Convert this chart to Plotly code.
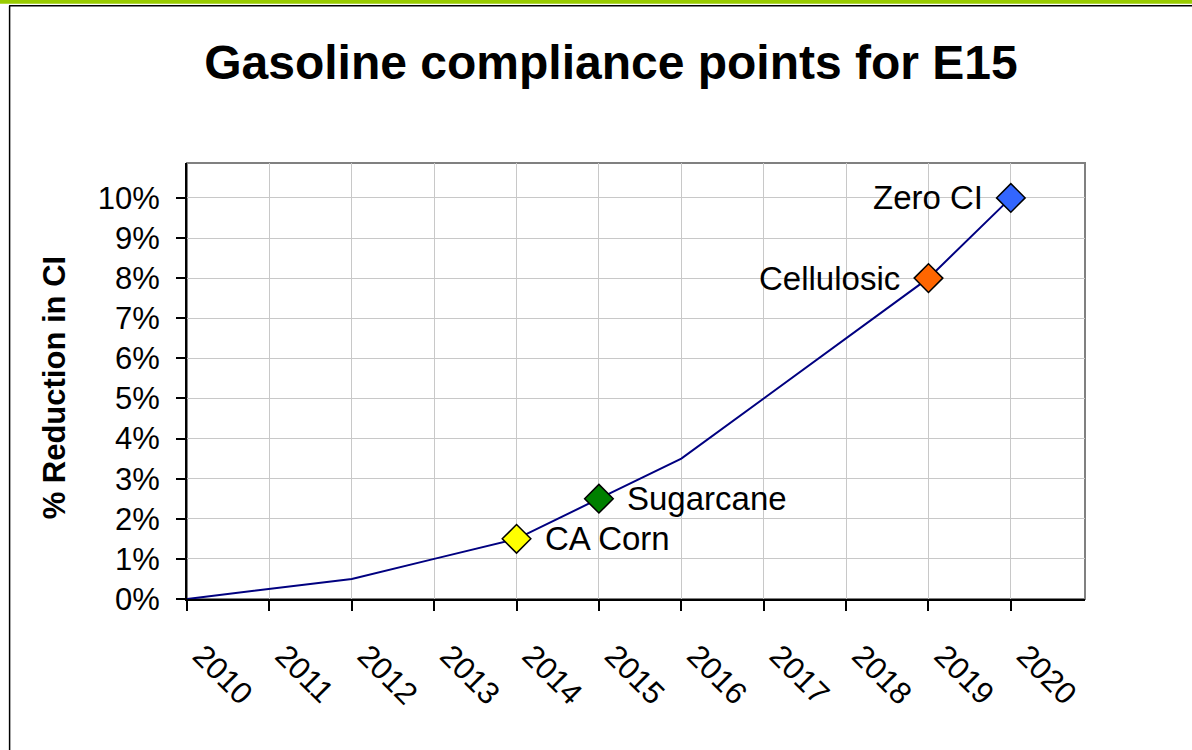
import plotly.graph_objects as go

# ---- data ----
years = [2010, 2011, 2012, 2013, 2014, 2015, 2016, 2017, 2018, 2019, 2020]
reduction_pct = [0.0, 0.25, 0.5, 1.0, 1.5, 2.5, 3.5, 5.0, 6.5, 8.0, 10.0]

point_years = [2014, 2015, 2019, 2020]
point_labels = ["CA Corn", "Sugarcane", "Cellulosic", "Zero CI"]
point_colors = ["#ffff00", "#008000", "#ff6600", "#3366ff"]
point_label_side = ["right", "right", "left", "left"]

y_ticks = list(range(0, 11))
y_tick_text = [f"{v}%" for v in y_ticks]

title_text = "Gasoline compliance points for E15"
y_title = "% Reduction in CI"

FONT = "Liberation Sans, Arial, sans-serif"

point_values = [reduction_pct[years.index(y)] for y in point_years]

fig = go.Figure()
fig.add_trace(go.Scatter(
    x=years, y=reduction_pct, mode="lines",
    line=dict(color="#000080", width=2),
    hoverinfo="x+y", showlegend=False,
))
fig.add_trace(go.Scatter(
    x=point_years, y=point_values, mode="markers",
    marker=dict(symbol="diamond", size=22, color=point_colors,
                line=dict(color="#000000", width=1.5)),
    showlegend=False, cliponaxis=False,
))

for yr, val, lab, side in zip(point_years, point_values, point_labels, point_label_side):
    fig.add_annotation(
        x=yr, y=val, text=lab, showarrow=False,
        xanchor="left" if side == "right" else "right",
        yanchor="middle",
        xshift=26 if side == "right" else -26,
        font=dict(family=FONT, size=33, color="#000000"),
    )

# outer frame decorations (paper coords relative to plot area)
L, R, T, B = 187, 1085.5, 162.7, 598.7
W, H = R - L, B - T
def px(xp): return (xp - L) / W
def py(yp): return (B - yp) / H

fig.add_shape(type="rect", xref="paper", yref="paper",
              x0=px(-5), x1=px(1200), y0=py(-5), y1=py(3.5),
              fillcolor="#99cc00", line=dict(width=0), layer="above")
fig.add_shape(type="line", xref="paper", yref="paper",
              x0=px(9), x1=px(1200), y0=py(5.5), y1=py(5.5),
              line=dict(color="#000000", width=1.5))
fig.add_shape(type="line", xref="paper", yref="paper",
              x0=px(9.5), x1=px(9.5), y0=py(5.5), y1=py(760),
              line=dict(color="#000000", width=1.5))
# plot-area border (grey top/right)
fig.add_shape(type="rect", xref="paper", yref="paper",
              x0=0, x1=1, y0=0, y1=1,
              line=dict(color="#808080", width=2), layer="below")

# y-axis title as annotation for exact placement
fig.add_annotation(
    text=f"<b>{y_title}</b>", textangle=-90, showarrow=False,
    xref="paper", yref="paper", x=px(54), y=py(387),
    xanchor="center", yanchor="middle",
    font=dict(family=FONT, size=31, color="#000000"),
)

fig.update_layout(
    width=1192, height=750,
    margin=dict(l=L, r=1192 - R, t=T, b=750 - B),
    paper_bgcolor="#ffffff", plot_bgcolor="#ffffff",
    font=dict(family=FONT, color="#000000"),
    title=dict(text=f"<b>{title_text}</b>", x=611 / 1192, xref="container",
               xanchor="center", y=1 - 62 / 750, yref="container",
               yanchor="middle",
               font=dict(family=FONT, size=48, color="#000000")),
)

fig.update_xaxes(
    range=[2010, 2020.9], tickmode="array", tickvals=years,
    ticktext=[str(y) for y in years], tickangle=45,
    showgrid=True, gridcolor="#c8c8c8", gridwidth=1,
    showline=True, linecolor="#000000", linewidth=2,
    ticks="outside", ticklen=10, tickcolor="#000000", tickwidth=1.5,
    tickfont=dict(family=FONT, size=31, color="#000000"),
    ticklabelstandoff=14, ticklabelshift=15,
    zeroline=False,
)
fig.update_yaxes(
    range=[0, 10.87], tickmode="array", tickvals=y_ticks, ticktext=y_tick_text,
    showgrid=True, gridcolor="#c8c8c8", gridwidth=1,
    showline=True, linecolor="#000000", linewidth=2,
    ticks="outside", ticklen=9, tickcolor="#000000", tickwidth=1.5,
    tickfont=dict(family=FONT, size=31, color="#000000"),
    ticklabelstandoff=10,
    zeroline=False,
)

fig.write_html(
    "out.html",
    config={"displayModeBar": False},
    post_script="document.body.style.margin='0';document.body.style.overflow='hidden';",
)
